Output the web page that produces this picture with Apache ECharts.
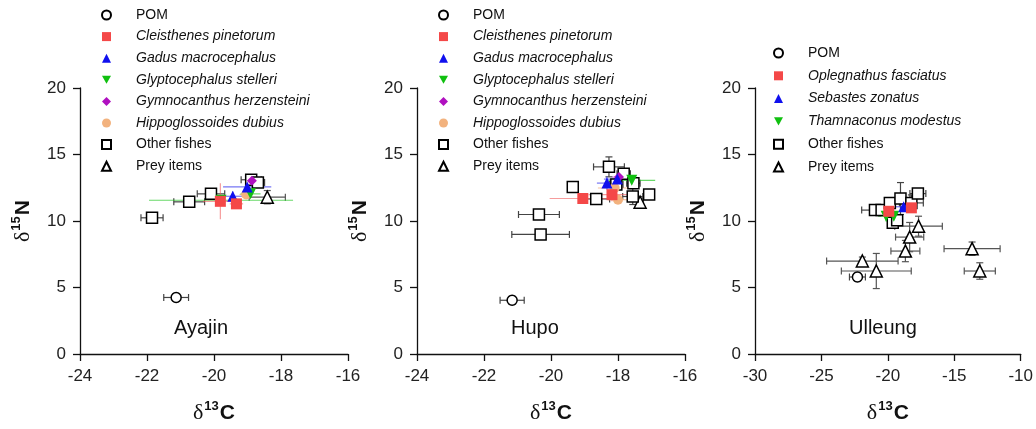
<!DOCTYPE html>
<html>
<head>
<meta charset="utf-8">
<script src="https://cdn.jsdelivr.net/npm/echarts@6/dist/echarts.min.js"></script>
<style>
  html, body { margin: 0; padding: 0; background: #fff; }
  #chart { width: 1036px; height: 429px; }
</style>
</head>
<body>
<div id="chart"></div>
<script>
  // each point: [d13C, d15N, sd13C, sd15N]
  // Ayajin
  var ayaPOM = [[-21.13, 4.25, 0.37, 0.3]]
  var ayaCleis = [[-19.81, 11.48, 0.52, 1.35], [-19.33, 11.29, 0.2, 0.2]]
  var ayaGadus = [[-19.44, 11.86, 0.42, 0.35], [-19.01, 12.56, 0.72, 0.45]]
  var ayaGlypto = [[-19.79, 11.56, 2.15, 0.1], [-18.91, 12.04, 0.3, 0.3]]
  var ayaGymno = [[-18.87, 13.03, 0.2, 0.2]]
  var ayaHippo = [[-19.04, 11.99, 0.2, 0.3]]
  var ayaOther = [[-21.85, 10.24, 0.33, 0.2], [-20.74, 11.44, 0.46, 0.3], [-20.09, 12.04, 0.41, 0.2], [-18.89, 13.1, 0.3, 0.2], [-18.69, 12.9, 0.2, 0.2]]
  var ayaPrey = [[-18.41, 11.79, 0.54, 0.5]]

  // Hupo
  var hupPOM = [[-21.16, 4.04, 0.36, 0.3]]
  var hupCleis = [[-19.05, 11.69, 0.99, 0.3], [-18.18, 11.98, 0.7, 0.5]]
  var hupGadus = [[-18.33, 12.85, 0.3, 0.5], [-18.02, 13.15, 0.4, 0.3]]
  var hupGlypto = [[-17.59, 13.06, 0.7, 0.2]]
  var hupGymno = [[-17.97, 13.3, 0.2, 0.2]]
  var hupHippo = [[-18.1, 12.48, 0.5, 0.3], [-18.0, 11.6, 0.3, 0.3]]
  var hupOther = [[-20.36, 10.49, 0.61, 0.2], [-20.31, 8.99, 0.86, 0.2], [-19.35, 12.56, 0, 0], [-18.65, 11.66, 0.4, 0.4],
    [-18.27, 14.07, 0.46, 0.75], [-18.05, 12.74, 0.2, 0.2], [-17.83, 13.55, 0.2, 0.2], [-17.54, 12.84, 0.2, 0.2],
    [-17.56, 11.84, 0.3, 0.6], [-17.07, 12.0, 0.1, 0.1]]
  var hupPrey = [[-17.34, 11.41, 0.1, 0.3]]

  // Ulleung
  var ullPOM = [[-22.29, 5.79, 0.6, 0.3]]
  var ullOpleg = [[-19.93, 10.73, 0.4, 0.4], [-18.23, 10.99, 0.3, 0.3]]
  var ullSebastes = [[-18.81, 11.07, 0.6, 0.4]]
  var ullThamna = [[-20.13, 10.36, 0.6, 0.4], [-19.55, 10.36, 0.5, 0.4]]
  var ullOther = [[-20.97, 10.82, 1.0, 0.2], [-20.47, 10.82, 0.3, 0.2], [-19.85, 11.36, 0.3, 0.3], [-19.63, 9.86, 0.3, 0.4],
    [-19.3, 10.06, 0.3, 0.3], [-19.05, 11.69, 0.3, 1.2], [-18.23, 11.36, 0.9, 0.6], [-17.74, 12.06, 0.6, 0.3]]
  var ullPrey = [[-21.92, 6.99, 2.69, 0.3], [-20.87, 6.24, 2.63, 1.32], [-18.68, 7.74, 1.09, 0.8], [-18.36, 8.79, 1.06, 1.1],
    [-17.69, 9.61, 1.79, 0.75], [-13.66, 7.92, 2.11, 0.5], [-13.08, 6.24, 1.17, 0.62]]

  var xTicks = [[-24, -16, 2], [-24, -16, 2], [-30, -10, 5]]
  var siteNames = ['Ayajin', 'Hupo', 'Ulleung']

  var downTri = 'path://M0,0 L10,0 L5,9 Z'

  // marker looks per group
  var looks = {
    'POM': { symbol: 'circle', size: 10, fill: '#fff', border: '#000', err: '#444', cap: true },
    'Other fishes': { symbol: 'rect', size: 11, fill: '#fff', border: '#000', err: '#444', cap: true },
    'Prey items': { symbol: 'triangle', size: 12, fill: '#fff', border: '#000', err: '#555', cap: true },
    'Cleisthenes pinetorum': { symbol: 'rect', size: 11, fill: '#f44848', err: 'rgba(240,90,90,0.6)' },
    'Oplegnathus fasciatus': { symbol: 'rect', size: 11, fill: '#f44848', err: 'rgba(240,90,90,0.6)' },
    'Gadus macrocephalus': { symbol: 'triangle', size: 11, fill: '#1010ee', err: 'rgba(60,60,240,0.7)' },
    'Sebastes zonatus': { symbol: 'triangle', size: 11, fill: '#1010ee', err: 'rgba(60,60,240,0.7)' },
    'Glyptocephalus stelleri': { symbol: downTri, size: 11, fill: '#10c010', err: 'rgba(40,200,40,0.7)' },
    'Thamnaconus modestus': { symbol: downTri, size: 11, fill: '#10c010', err: 'rgba(40,200,40,0.7)' },
    'Gymnocanthus herzensteini': { symbol: 'diamond', size: 10, fill: '#b010c0', err: 'rgba(170,20,190,0.6)' },
    'Hippoglossoides dubius': { symbol: 'circle', size: 10, fill: '#f2b27e', err: 'rgba(242,170,120,0.7)' }
  }

  // drawing order (first drawn = bottom)
  var panels = [
    [['Prey items', ayaPrey], ['Other fishes', ayaOther], ['POM', ayaPOM], ['Hippoglossoides dubius', ayaHippo],
      ['Gymnocanthus herzensteini', ayaGymno], ['Glyptocephalus stelleri', ayaGlypto], ['Gadus macrocephalus', ayaGadus],
      ['Cleisthenes pinetorum', ayaCleis]],
    [['Prey items', hupPrey], ['Other fishes', hupOther], ['POM', hupPOM], ['Hippoglossoides dubius', hupHippo],
      ['Gymnocanthus herzensteini', hupGymno], ['Glyptocephalus stelleri', hupGlypto], ['Gadus macrocephalus', hupGadus],
      ['Cleisthenes pinetorum', hupCleis]],
    [['Prey items', ullPrey], ['Other fishes', ullOther], ['POM', ullPOM], ['Thamnaconus modestus', ullThamna],
      ['Sebastes zonatus', ullSebastes], ['Oplegnathus fasciatus', ullOpleg]]
  ]
  var legendLists = [
    ['POM', 'Cleisthenes pinetorum', 'Gadus macrocephalus', 'Glyptocephalus stelleri', 'Gymnocanthus herzensteini', 'Hippoglossoides dubius', 'Other fishes', 'Prey items'],
    ['POM', 'Cleisthenes pinetorum', 'Gadus macrocephalus', 'Glyptocephalus stelleri', 'Gymnocanthus herzensteini', 'Hippoglossoides dubius', 'Other fishes', 'Prey items'],
    ['POM', 'Oplegnathus fasciatus', 'Sebastes zonatus', 'Thamnaconus modestus', 'Other fishes', 'Prey items']
  ]
  var plain = ['POM', 'Other fishes', 'Prey items']

  var FONT = 'Liberation Sans, Arial, sans-serif'
  var gridLeft = [80, 417, 755]

  function errRender (color, cap) {
    return function (params, api) {
      var x = api.value(0)
      var y = api.value(1)
      var xe = api.value(2)
      var ye = api.value(3)
      var l = api.coord([x - xe, y])
      var r = api.coord([x + xe, y])
      var t = api.coord([x, y + ye])
      var b = api.coord([x, y - ye])
      var st = { stroke: color, lineWidth: 1.2 }
      var kids = []
      if (xe > 0) kids.push({ type: 'line', shape: { x1: l[0], y1: l[1], x2: r[0], y2: r[1] }, style: st })
      if (ye > 0) kids.push({ type: 'line', shape: { x1: t[0], y1: t[1], x2: b[0], y2: b[1] }, style: st })
      if (cap) {
        var c = 3.5
        if (xe > 0) {
          kids.push({ type: 'line', shape: { x1: l[0], y1: l[1] - c, x2: l[0], y2: l[1] + c }, style: st })
          kids.push({ type: 'line', shape: { x1: r[0], y1: r[1] - c, x2: r[0], y2: r[1] + c }, style: st })
        }
        if (ye > 0) {
          kids.push({ type: 'line', shape: { x1: t[0] - c, y1: t[1], x2: t[0] + c, y2: t[1] }, style: st })
          kids.push({ type: 'line', shape: { x1: b[0] - c, y1: b[1], x2: b[0] + c, y2: b[1] }, style: st })
        }
      }
      return { type: 'group', children: kids }
    }
  }

  var series = []
  panels.forEach(function (groups, p) {
    groups.forEach(function (g) {
      var lk = looks[g[0]]
      series.push({
        name: g[0] + ' sd ' + p,
        type: 'custom',
        xAxisIndex: p,
        yAxisIndex: p,
        z: 2,
        silent: true,
        encode: { x: 0, y: 1 },
        renderItem: errRender(lk.err, lk.cap),
        data: g[1]
      })
    })
    groups.forEach(function (g) {
      var lk = looks[g[0]]
      series.push({
        name: g[0],
        type: 'scatter',
        xAxisIndex: p,
        yAxisIndex: p,
        z: 3,
        symbol: lk.symbol,
        symbolSize: lk.size,
        itemStyle: {
          color: lk.fill,
          opacity: 1,
          borderColor: lk.border || lk.fill,
          borderWidth: lk.border ? 1.5 : 0
        },
        data: g[1].map(function (d) { return [d[0], d[1]] })
      })
    })
  })

  var axisName = function (num, letter) {
    return '{d|δ}{s|' + num + '}{n|' + letter + '}'
  }
  var nameRich = {
    d: { fontFamily: 'Liberation Serif, serif', fontSize: 22, color: '#111', lineHeight: 24, verticalAlign: 'bottom' },
    s: { fontFamily: FONT, fontSize: 13, fontWeight: 'bold', color: '#111', lineHeight: 24, verticalAlign: 'top', padding: [0, 1, 0, 1] },
    n: { fontFamily: FONT, fontSize: 21, fontWeight: 'bold', color: '#111', lineHeight: 24, verticalAlign: 'bottom' }
  }

  var grids = []
  var xAxes = []
  var yAxes = []
  var legends = []
  var graphics = []
  var legendTop = [3, 3, 41]
  var legendGap = [7.6, 7.6, 8.8]
  var legendShift = [16, 16, 13]
  for (var p = 0; p < 3; p++) {
    grids.push({ left: gridLeft[p], top: 88, width: 268, height: 267 })
    xAxes.push({
      gridIndex: p,
      type: 'value',
      min: xTicks[p][0],
      max: xTicks[p][1],
      interval: xTicks[p][2],
      splitLine: { show: false },
      axisLine: { onZero: false, lineStyle: { color: '#111', width: 1.3 } },
      axisTick: { length: 7, lineStyle: { color: '#111', width: 1.3 } },
      axisLabel: { fontFamily: FONT, fontSize: 17, color: '#222', margin: 14 },
      name: axisName('13', 'C'),
      nameLocation: 'middle',
      nameGap: 46,
      nameTextStyle: { rich: nameRich }
    })
    yAxes.push({
      gridIndex: p,
      type: 'value',
      min: 0,
      max: 20,
      interval: 5,
      splitLine: { show: false },
      axisLine: { onZero: false, lineStyle: { color: '#111', width: 1.3 } },
      axisTick: { length: 7, lineStyle: { color: '#111', width: 1.3 } },
      axisLabel: { fontFamily: FONT, fontSize: 17, color: '#222', margin: 14 },
      name: axisName('15', 'N'),
      nameLocation: 'middle',
      nameGap: 46,
      nameTextStyle: { rich: nameRich }
    })
    legends.push({
      orient: 'vertical',
      left: gridLeft[p] + legendShift[p],
      top: legendTop[p],
      itemWidth: 9,
      itemHeight: 9,
      itemGap: legendGap[p],
      selectedMode: false,
      data: legendLists[p],
      formatter: function (name) {
        return plain.indexOf(name) >= 0 ? '{r|' + name + '}' : '{i|' + name + '}'
      },
      textStyle: {
        fontFamily: FONT,
        fontSize: 14,
        color: '#111',
        rich: {
          r: { fontFamily: FONT, fontSize: 14, color: '#111', padding: [0, 0, 0, 20] },
          i: { fontFamily: FONT, fontSize: 14, fontStyle: 'italic', color: '#111', padding: [0, 0, 0, 20] }
        }
      }
    })
    graphics.push({
      type: 'text',
      left: gridLeft[p] + 134 - 40,
      top: 318,
      style: { text: siteNames[p], fontFamily: FONT, fontSize: 20, fill: '#111', width: 80, align: 'center' }
    })
  }

  var chart = echarts.init(document.getElementById('chart'))
  chart.setOption({
    animation: false,
    backgroundColor: '#fff',
    grid: grids,
    xAxis: xAxes,
    yAxis: yAxes,
    legend: legends,
    graphic: graphics,
    series: series
  })
</script>
</body>
</html>
